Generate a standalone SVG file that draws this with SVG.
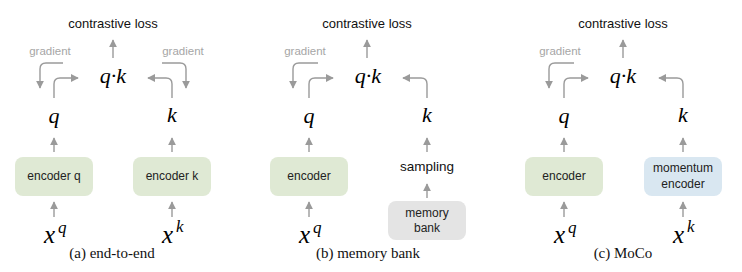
<svg xmlns="http://www.w3.org/2000/svg" width="742" height="272" viewBox="0 0 742 272">
<style>
.loss{font-family:"Liberation Sans",Arial,sans-serif;font-size:13px;fill:#111;text-anchor:middle}
.grad{font-family:"Liberation Sans",Arial,sans-serif;font-size:11.5px;fill:#a6a6a6;text-anchor:middle}
.lbl{font-family:"Liberation Sans",Arial,sans-serif;font-size:12px;fill:#222;text-anchor:middle}
.lbl2{font-family:"Liberation Sans",Arial,sans-serif;font-size:13.5px;fill:#111;text-anchor:middle}
.math{font-family:"Liberation Serif","DejaVu Serif",serif;font-style:italic;font-size:22px;fill:#000;text-anchor:middle}
.mx{font-family:"Liberation Serif","DejaVu Serif",serif;font-style:italic;font-size:25px;fill:#000}
.msup{font-family:"Liberation Serif","DejaVu Serif",serif;font-style:italic;font-size:17px;fill:#000}
.cap{font-family:"Liberation Serif","Times New Roman",serif;font-size:15px;fill:#111;text-anchor:middle}
.green{fill:#dfe9d4}
.blue{fill:#d9e7f1}
.gray{fill:#e4e4e4}
.c{fill:none;stroke:#9a9a9a;stroke-width:1.4;marker-end:url(#ah)}
</style>
<defs>
<marker id="ah" viewBox="0 0 10 10" refX="9" refY="5" markerWidth="8" markerHeight="8" markerUnits="userSpaceOnUse" orient="auto">
<path d="M0,0 L10,5 L0,10 z" fill="#9a9a9a"/>
</marker>
</defs>
<rect width="742" height="272" fill="#fff"/>

<g id="connectors">
<path class="c" d="M113,58 V40"/>
<path class="c" d="M63,63 H46 Q40,63 40,69 V88"/>
<path class="c" d="M54,98 V84 Q54,78 60,78 H78"/>
<path class="c" d="M172,98 V84 Q172,78 166,78 H148"/>
<path class="c" d="M162,63 H180 Q186,63 186,69 V88"/>
<path class="c" d="M54,152 V138"/>
<path class="c" d="M172,152 V138"/>
<path class="c" d="M54,217 V202"/>
<path class="c" d="M172,217 V202"/>
<path class="c" d="M367,58 V40"/>
<path class="c" d="M318,63 H299 Q293,63 293,69 V88"/>
<path class="c" d="M309,98 V84 Q309,78 315,78 H333"/>
<path class="c" d="M427,98 V84 Q427,78 421,78 H403"/>
<path class="c" d="M309,152 V138"/>
<path class="c" d="M427,152 V138"/>
<path class="c" d="M309,217 V202"/>
<path class="c" d="M427,198 V184"/>
<path class="c" d="M623,58 V40"/>
<path class="c" d="M574,63 H555 Q549,63 549,69 V88"/>
<path class="c" d="M564,98 V84 Q564,78 570,78 H588"/>
<path class="c" d="M683,98 V84 Q683,78 677,78 H659"/>
<path class="c" d="M564,152 V138"/>
<path class="c" d="M683,152 V138"/>
<path class="c" d="M564,217 V202"/>
<path class="c" d="M683,217 V202"/>
</g>

<g id="a-loss"><text class="loss" x="113" y="28">contrastive loss</text></g>
<g id="a-grad-q"><text class="grad" x="50" y="55">gradient</text></g>
<g id="a-grad-k"><text class="grad" x="183" y="55">gradient</text></g>
<g id="a-qk"><text class="math" x="113" y="83">q·k</text></g>
<g id="a-q"><text class="math" x="54" y="123">q</text></g>
<g id="a-k"><text class="math" x="172" y="122">k</text></g>
<g id="a-enc-q"><rect class="green" x="15" y="157" width="78" height="39" rx="8"/><text class="lbl" x="54" y="180">encoder q</text></g>
<g id="a-enc-k"><rect class="green" x="133" y="157" width="78" height="39" rx="8"/><text class="lbl" x="172" y="180">encoder k</text></g>
<g id="a-xq"><text class="mx" x="44" y="243">x</text><text class="msup" x="58" y="233">q</text></g>
<g id="a-xk"><text class="mx" x="162" y="243">x</text><text class="msup" x="176" y="232">k</text></g>
<g id="a-cap"><text class="cap" x="112" y="258">(a) end-to-end</text></g>

<g id="b-loss"><text class="loss" x="367" y="28">contrastive loss</text></g>
<g id="b-grad-q"><text class="grad" x="305" y="55">gradient</text></g>
<g id="b-qk"><text class="math" x="368" y="83">q·k</text></g>
<g id="b-q"><text class="math" x="309" y="123">q</text></g>
<g id="b-k"><text class="math" x="427" y="122">k</text></g>
<g id="b-enc"><rect class="green" x="270" y="157" width="78" height="39" rx="8"/><text class="lbl" x="309" y="180">encoder</text></g>
<g id="b-sampling"><text class="lbl2" x="427" y="171">sampling</text></g>
<g id="b-bank"><rect class="gray" x="388" y="201" width="78" height="39" rx="8"/><text class="lbl" x="427" y="217">memory</text><text class="lbl" x="427" y="232">bank</text></g>
<g id="b-xq"><text class="mx" x="299" y="243">x</text><text class="msup" x="313" y="233">q</text></g>
<g id="b-cap"><text class="cap" x="368" y="258">(b) memory bank</text></g>

<g id="c-loss"><text class="loss" x="623" y="28">contrastive loss</text></g>
<g id="c-grad-q"><text class="grad" x="560" y="55">gradient</text></g>
<g id="c-qk"><text class="math" x="623" y="83">q·k</text></g>
<g id="c-q"><text class="math" x="564" y="123">q</text></g>
<g id="c-k"><text class="math" x="683" y="122">k</text></g>
<g id="c-enc"><rect class="green" x="525" y="157" width="78" height="39" rx="8"/><text class="lbl" x="564" y="180">encoder</text></g>
<g id="c-momentum"><rect class="blue" x="644" y="157" width="78" height="39" rx="8"/><text class="lbl" x="683" y="172">momentum</text><text class="lbl" x="683" y="188">encoder</text></g>
<g id="c-xq"><text class="mx" x="554" y="243">x</text><text class="msup" x="568" y="233">q</text></g>
<g id="c-xk"><text class="mx" x="673" y="243">x</text><text class="msup" x="687" y="232">k</text></g>
<g id="c-cap"><text class="cap" x="623" y="258">(c) MoCo</text></g>
</svg>
